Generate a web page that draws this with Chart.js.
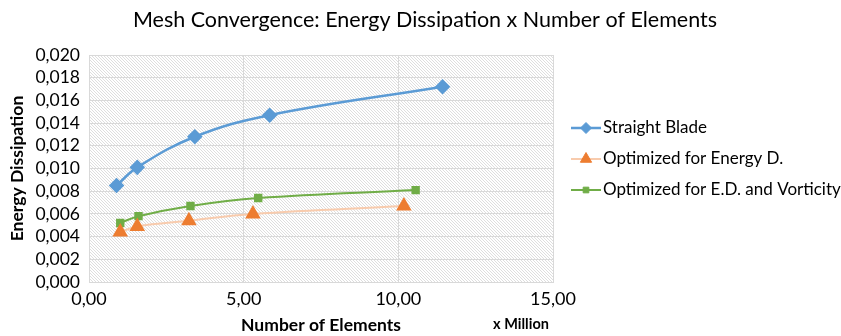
<!DOCTYPE html>
<html>
<head>
<meta charset="utf-8">
<script src="https://cdn.jsdelivr.net/npm/chart.js@4/dist/chart.umd.min.js"></script>
<style>
  html, body { margin: 0; padding: 0; background: #ffffff; }
  #wrap { width: 841px; height: 336px; }
</style>
</head>
<body>
<div id="wrap"><canvas id="chart" width="841" height="336"></canvas></div>
<script>
// Mesh convergence study: energy dissipation vs. element count (millions)
const chartTitle = 'Mesh Convergence: Energy Dissipation x Number of Elements';
const seriesNames = ['Straight Blade', 'Optimized for Energy D.', 'Optimized for E.D. and Vorticity'];

const straightX = [0.89, 1.56, 3.42, 5.84, 11.43];
const straightY = [0.0085, 0.0101, 0.0128, 0.0147, 0.0172];

const optEnergyX = [1.01, 1.56, 3.23, 5.30, 10.18];
const optEnergyY = [0.0044, 0.0049, 0.0054, 0.0060, 0.0067];

const optVortX = [1.01, 1.60, 3.28, 5.47, 10.56];
const optVortY = [0.0052, 0.0058, 0.0067, 0.0074, 0.0081];

const xTicks = [0, 5, 10, 15];
const yTicks = [0, 0.002, 0.004, 0.006, 0.008, 0.010, 0.012, 0.014, 0.016, 0.018, 0.020];

const FONT = 'Lato, "Open Sans", sans-serif';

function toPoints(xs, ys) { return xs.map((x, i) => ({ x: x, y: ys[i] })); }

// diagonal hatch fill for the plot area
function makeHatch() {
  const c = document.createElement('canvas');
  c.width = 3; c.height = 3;
  const g = c.getContext('2d');
  g.fillStyle = '#ffffff';
  g.fillRect(0, 0, 3, 3);
  g.fillStyle = '#dedede';
  for (let i = 0; i < 3; i++) g.fillRect(i, i, 1, 1);
  return c;
}

const hatchPlugin = {
  id: 'hatch',
  beforeDraw(chart) {
    const { ctx, chartArea: a } = chart;
    ctx.save();
    ctx.fillStyle = ctx.createPattern(makeHatch(), 'repeat');
    ctx.fillRect(a.left, a.top, a.right - a.left, a.bottom - a.top);
    ctx.restore();
  }
};

// title across the whole figure, side legend with line + marker, and the unit note
const decorations = {
  id: 'decorations',
  afterDraw(chart) {
    const ctx = chart.ctx;

    ctx.save();
    ctx.fillStyle = '#000000';
    ctx.font = '21.5px ' + FONT;
    ctx.textBaseline = 'middle';
    ctx.textAlign = 'center';
    ctx.fillText(chartTitle, 425, 20);
    ctx.restore();

    const x0 = 571, lineLen = 30, rowY = [128, 159, 190];
    chart.data.datasets.forEach((ds, i) => {
      const y = rowY[i];
      ctx.save();
      ctx.strokeStyle = ds.borderColor;
      ctx.lineWidth = ds.borderWidth;
      ctx.beginPath();
      ctx.moveTo(x0, y);
      ctx.lineTo(x0 + lineLen, y);
      ctx.stroke();
      ctx.fillStyle = ds.pointBackgroundColor;
      ctx.strokeStyle = ds.pointBorderColor;
      ctx.lineWidth = 1;
      Chart.helpers.drawPoint(ctx, {
        pointStyle: ds.pointStyle,
        radius: ds.legendRadius,
        borderWidth: 1,
        rotation: 0
      }, x0 + lineLen / 2, y);
      ctx.restore();

      ctx.save();
      ctx.fillStyle = '#000000';
      ctx.font = '17px ' + FONT;
      ctx.textBaseline = 'middle';
      ctx.textAlign = 'left';
      ctx.fillText(ds.label, x0 + lineLen + 2, y);
      ctx.restore();
    });

    ctx.save();
    ctx.fillStyle = '#000000';
    ctx.font = 'bold 14.5px ' + FONT;
    ctx.textBaseline = 'middle';
    ctx.textAlign = 'center';
    ctx.fillText('x Million', 521, 324);
    ctx.restore();
  }
};

const fmt = (v, d) => Number(v).toFixed(d).replace('.', ',');

new Chart(document.getElementById('chart'), {
  type: 'scatter',
  data: {
    datasets: [
      {
        label: seriesNames[0],
        data: toPoints(straightX, straightY),
        showLine: true,
        tension: 0.4,
        borderColor: '#5b9bd5',
        borderWidth: 2.5,
        pointStyle: 'rectRot',
        pointRadius: 6,
        legendRadius: 5.5,
        pointBackgroundColor: '#5b9bd5',
        pointBorderColor: '#5b9bd5'
      },
      {
        label: seriesNames[1],
        data: toPoints(optEnergyX, optEnergyY),
        showLine: true,
        tension: 0.4,
        borderColor: '#f8cbad',
        borderWidth: 2,
        pointStyle: 'triangle',
        pointRadius: 7,
        legendRadius: 6.5,
        pointBackgroundColor: '#ed7d31',
        pointBorderColor: '#ed7d31'
      },
      {
        label: seriesNames[2],
        data: toPoints(optVortX, optVortY),
        showLine: true,
        tension: 0.4,
        borderColor: '#70ad47',
        borderWidth: 2,
        pointStyle: 'rect',
        pointRadius: 4.5,
        legendRadius: 4,
        pointBackgroundColor: '#70ad47',
        pointBorderColor: '#70ad47'
      }
    ]
  },
  options: {
    responsive: false,
    animation: false,
    layout: { padding: { left: 4, right: 288, top: 55, bottom: 0 } },
    plugins: {
      legend: { display: false },
      tooltip: { enabled: false },
      title: { display: false }
    },
    scales: {
      x: {
        type: 'linear',
        min: xTicks[0],
        max: xTicks[xTicks.length - 1],
        afterBuildTicks(scale) { scale.ticks = xTicks.map(v => ({ value: v })); },
        afterFit(scale) { scale.height = 54; },
        ticks: {
          color: '#000000',
          font: { family: FONT, size: 18 },
          padding: 6,
          maxRotation: 0,
          autoSkip: false,
          callback: v => fmt(v, 2)
        },
        grid: { color: '#d9d9d9', drawTicks: false, lineWidth: 1 },
        border: { color: '#d9d9d9' },
        title: {
          display: true,
          text: 'Number of Elements',
          color: '#000000',
          font: { family: FONT, size: 17.5, weight: 'bold' },
          padding: { top: 0, bottom: 0 }
        }
      },
      y: {
        type: 'linear',
        min: yTicks[0],
        max: yTicks[yTicks.length - 1],
        afterBuildTicks(scale) { scale.ticks = yTicks.map(v => ({ value: v })); },
        afterFit(scale) { scale.width = 85; },
        ticks: {
          color: '#000000',
          font: { family: FONT, size: 17.5 },
          padding: 9,
          autoSkip: false,
          callback: v => fmt(v, 3)
        },
        grid: { color: '#d9d9d9', drawTicks: false, lineWidth: 1 },
        border: { color: '#d9d9d9' },
        title: {
          display: true,
          text: 'Energy Dissipation',
          color: '#000000',
          font: { family: FONT, size: 17.5, weight: 'bold' },
          padding: { top: 3, bottom: 0 }
        }
      }
    }
  },
  plugins: [hatchPlugin, decorations]
});
</script>
</body>
</html>
